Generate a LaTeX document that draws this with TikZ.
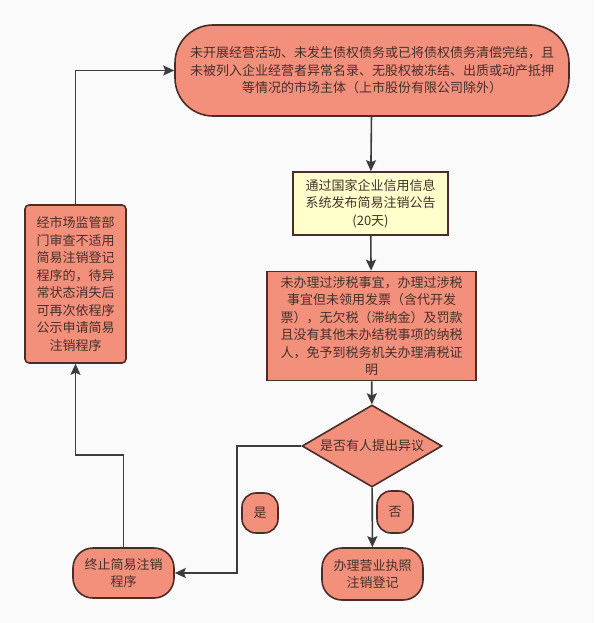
\documentclass[tikz,border=0pt]{standalone}
\usepackage{fontspec}
\newfontfamily\cjk{Noto Sans CJK SC}
\usetikzlibrary{arrows.meta,shapes.geometric}
\definecolor{salmon}{HTML}{F3907B}
\definecolor{edgec}{HTML}{4A2C28}
\definecolor{notec}{HTML}{FFFFCC}
\definecolor{txtc}{HTML}{45302C}
\definecolor{linec}{HTML}{3C3C3C}
\definecolor{bgc}{HTML}{FAFAFA}

\begin{document}
\begin{tikzpicture}[x=1pt,y=-1pt,>={Stealth[length=11pt,width=10pt,inset=2pt]}]
\tikzset{
  box/.style={draw=edgec,line width=1.6pt,fill=salmon,text=txtc,align=center,inner sep=0pt,
    font=\cjk\fontsize{13}{17.5}\selectfont},
  pill/.style={box,rounded corners=#1},
  flow/.style={->,draw=linec,line width=1.6pt}
}
\fill[bgc] (0,0) rectangle (594,623);
\useasboundingbox (0,0) rectangle (594,623);

\node[pill=38,minimum width=394,minimum height=91] (subject) at (372,70.5)
  {未开展经营活动、未发生债权债务或已将债权债务清偿完结，且\\
   未被列入企业经营者异常名录、无股权被冻结、出质或动产抵押\\
   等情况的市场主体（上市股份有限公司除外）};
\node[box,fill=notec,minimum width=155,minimum height=63] (notice) at (370.5,203.5)
  {通过国家企业信用信息\\系统发布简易注销公告\\(20天)};
\node[box,minimum width=209,minimum height=109] (tax) at (371.5,326)
  {未办理过涉税事宜，办理过涉税\\事宜但未领用发票（含代开发\\票），无欠税（滞纳金）及罚款\\
   且没有其他未办结税事项的纳税\\人，免予到税务机关办理清税证\\明};
\node[box,diamond,aspect=1.7,minimum width=140,minimum height=82] (objection) at (372,446)
  {是否有人提出异议};
\node[pill=14,minimum width=36,minimum height=40] (yes) at (260,513) {是};
\node[pill=14,minimum width=36,minimum height=42] (no) at (395,512) {否};
\node[pill=20,minimum width=101,minimum height=52] (cancel) at (372.5,574)
  {办理营业执照\\注销登记};
\node[pill=20,minimum width=101,minimum height=50] (stop) at (123.5,573)
  {终止简易注销\\程序};
\node[pill=4,minimum width=101,minimum height=158] (review) at (75.5,284)
  {经市场监管部\\门审查不适用\\简易注销登记\\程序的，待异\\常状态消失后\\可再次依程序\\公示申请简易\\注销程序};

\coordinate (bend) at (75.5,455);
\draw[flow] (subject) -- (notice);
\draw[flow] (notice) -- (tax);
\draw[flow] (tax) -- (objection);
\draw[flow] (objection) -- (cancel);
\draw[flow] (objection.west) -- ++(-64,0) |- (stop.east);
\draw[flow] (stop.north) |- (bend) -- (review.south);
\draw[flow] (review.north) |- (subject.west);
\end{tikzpicture}
\end{document}
